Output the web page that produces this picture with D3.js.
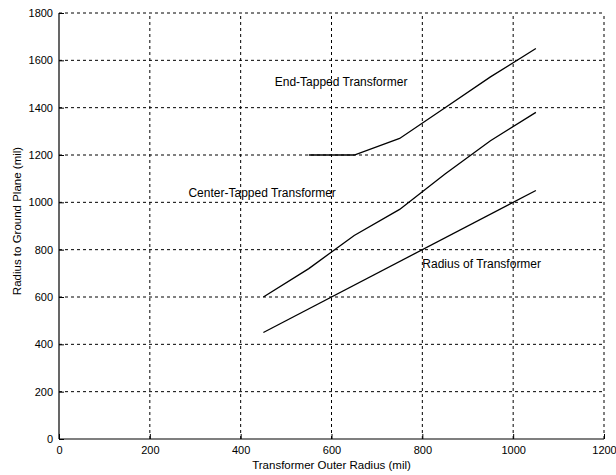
<!DOCTYPE html>
<html>
<head>
<meta charset="utf-8">
<script src="https://cdn.jsdelivr.net/npm/d3@7"></script>
<style>
  body { margin: 0; background: #fff; }
  text { font-family: "Liberation Sans", Arial, sans-serif; fill: #000; }
</style>
</head>
<body>
<div id="chart"></div>
<script>
var width  = 616,
    height = 475,
    margin = {top: 13, right: 12, bottom: 36, left: 59};

// values
var xTicks = [0, 200, 400, 600, 800, 1000, 1200],
    yTicks = [0, 200, 400, 600, 800, 1000, 1200, 1400, 1600, 1800];

var radiusX = [450, 1050],
    radiusY = [450, 1050];

var centerX = [450, 550, 650, 750, 850, 950, 1050],
    centerY = [600, 720, 860, 970, 1120, 1260, 1380];

var endX = [550, 650, 750, 850, 950, 1050],
    endY = [1200, 1200, 1270, 1400, 1530, 1650];

var labels = [
    {text: 'End-Tapped Transformer',    x: 475, y: 1510},
    {text: 'Center-Tapped Transformer', x: 285, y: 1040},
    {text: 'Radius of Transformer',     x: 800, y: 740}
];

var svg = d3.select('#chart').append('svg')
    .attr('width', width)
    .attr('height', height);

var x = d3.scaleLinear().domain([0, 1200]).range([margin.left, width - margin.right]),
    y = d3.scaleLinear().domain([0, 1800]).range([height - margin.bottom, margin.top]);

// grid, dashed like the old matlab plot
var grid = svg.append('g')
    .attr('stroke', '#000')
    .attr('stroke-width', 1)
    .attr('stroke-dasharray', '3,3');

grid.selectAll('.vg')
    .data(xTicks.slice(1))
    .enter().append('line')
    .attr('x1', function(d) { return x(d); })
    .attr('x2', function(d) { return x(d); })
    .attr('y1', y(0))
    .attr('y2', y(1800));

grid.selectAll('.hg')
    .data(yTicks.slice(1))
    .enter().append('line')
    .attr('y1', function(d) { return y(d); })
    .attr('y2', function(d) { return y(d); })
    .attr('x1', x(0))
    .attr('x2', x(1200));

// axes: only left and bottom solid
var fmt = d3.format('d');
var xAxis = d3.axisBottom(x).tickValues(xTicks).tickFormat(fmt).tickSize(-5).tickPadding(9),
    yAxis = d3.axisLeft(y).tickValues(yTicks).tickFormat(fmt).tickSize(-5).tickPadding(6);

var gx = svg.append('g')
    .attr('transform', 'translate(0,' + y(0) + ')')
    .call(xAxis);
var gy = svg.append('g')
    .attr('transform', 'translate(' + x(0) + ',0)')
    .call(yAxis);

[gx, gy].forEach(function(g) {
    g.select('.domain').attr('stroke', '#000').attr('stroke-width', 1.2);
    g.selectAll('.tick line').attr('stroke', '#000');
    g.selectAll('.tick text')
        .style('font-family', '"Liberation Sans", Arial, sans-serif')
        .style('font-size', '11px')
        .attr('fill', '#000');
});
gx.select('.domain').attr('d', 'M' + x(0) + ',0H' + x(1200));
gy.select('.domain').attr('d', 'M0,' + y(0) + 'V' + y(1800));
gx.selectAll('.tick text').attr('dy', '0.5em');

// series lines
var line = d3.line()
    .x(function(d) { return x(d[0]); })
    .y(function(d) { return y(d[1]); });

[[radiusX, radiusY], [centerX, centerY], [endX, endY]].forEach(function(s) {
    svg.append('path')
        .datum(d3.zip(s[0], s[1]))
        .attr('fill', 'none')
        .attr('stroke', '#000')
        .attr('stroke-width', 1.3)
        .attr('d', line);
});

svg.selectAll('.lbl')
    .data(labels)
    .enter().append('text')
    .attr('x', function(d) { return x(d.x); })
    .attr('y', function(d) { return y(d.y); })
    .attr('dy', '0.35em')
    .style('font-size', '12px')
    .text(function(d) { return d.text; });

// axis titles
svg.append('text')
    .attr('x', (x(0) + x(1200)) / 2)
    .attr('y', 469)
    .attr('text-anchor', 'middle')
    .style('font-size', '11.5px')
    .text('Transformer Outer Radius (mil)');

svg.append('text')
    .attr('transform', 'translate(17,221) rotate(-90)')
    .attr('text-anchor', 'middle')
    .attr('dy', '0.35em')
    .style('font-size', '11.5px')
    .text('Radius to Ground Plane (mil)');
</script>
</body>
</html>
